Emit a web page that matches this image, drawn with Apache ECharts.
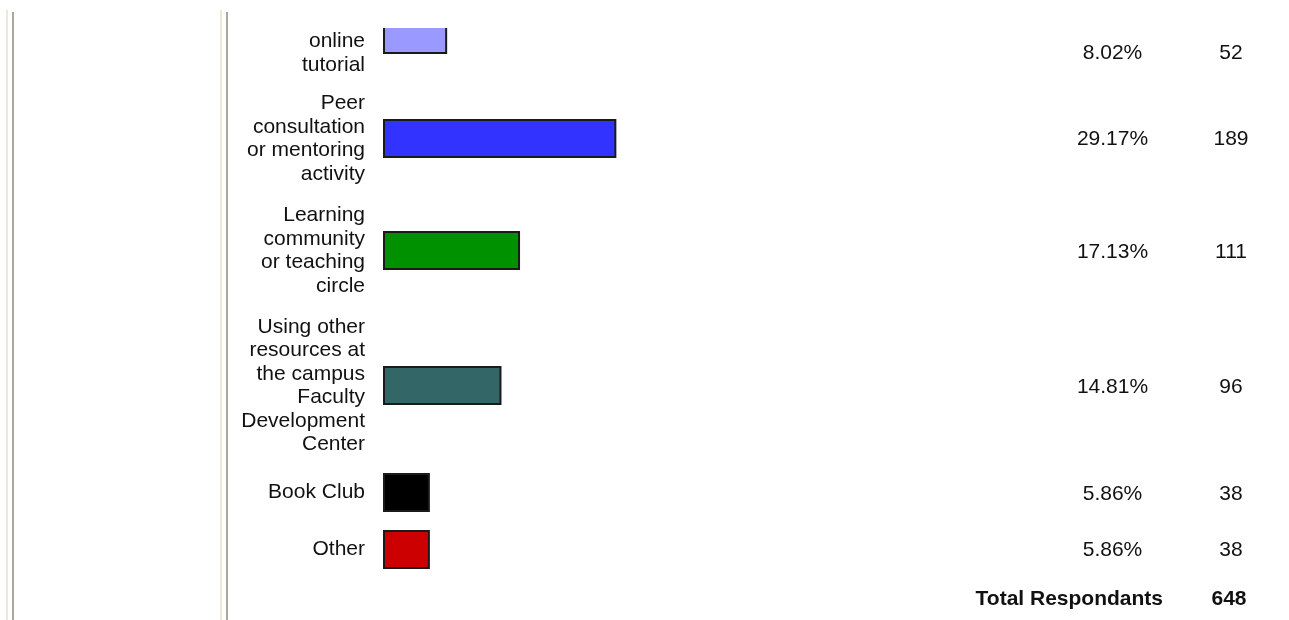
<!DOCTYPE html>
<html>
<head>
<meta charset="utf-8">
<script src="https://cdn.jsdelivr.net/npm/echarts@6/dist/echarts.min.js"></script>
<style>
  html, body { margin: 0; padding: 0; background: #fff; }
  #chart { width: 1289px; height: 620px; }
</style>
</head>
<body>
<div id="chart"></div>
<script>
// ---- data ----
const categories = [
  'online\ntutorial',
  'Peer\nconsultation\nor mentoring\nactivity',
  'Learning\ncommunity\nor teaching\ncircle',
  'Using other\nresources at\nthe campus\nFaculty\nDevelopment\nCenter',
  'Book Club',
  'Other'
];
const percents = [8.02, 29.17, 17.13, 14.81, 5.86, 5.86];
const counts = [52, 189, 111, 96, 38, 38];
const totalLabel = 'Total Respondants';
const totalCount = 648;
const barColors = ['#9999FF', '#3333FF', '#009100', '#336666', '#000000', '#CC0000'];

// ---- layout ----
const FONT = '"Liberation Sans", Arial, Helvetica, sans-serif';
const barTops = [15, 119, 231, 366, 473, 530];
const barH = 39;
const textY = [53, 139, 252, 387, 494, 550.5];

const chart = echarts.init(document.getElementById('chart'), null, { renderer: 'canvas' });

const grids = [], xAxes = [], yAxes = [], series = [];
const graphics = [];
categories.forEach((cat, i) => {
  grids.push({ left: 383, width: 800, top: barTops[i], height: barH });
  xAxes.push({ type: 'value', gridIndex: i, min: 0, max: 100, show: false });
  // first row's label sits lower than its (partly clipped) bar, so it is drawn as text below
  const axisLabelShown = i !== 0;
  yAxes.push({
    type: 'category', gridIndex: i, data: [cat],
    axisLine: { show: false }, axisTick: { show: false }, splitLine: { show: false },
    axisLabel: {
      show: axisLabelShown,
      fontSize: 21, lineHeight: 23.5, color: '#111', fontFamily: FONT,
      margin: 18, align: 'right', padding: [3, 0, 0, 0]
    }
  });
  series.push({
    type: 'bar', xAxisIndex: i, yAxisIndex: i, data: [percents[i]],
    barWidth: barH, silent: true,
    itemStyle: { color: barColors[i], borderColor: '#1a1a1a', borderWidth: 2 }
  });
  if (!axisLabelShown) {
    graphics.push({
      type: 'text', x: 365, y: textY[i],
      style: { text: cat, fill: '#111', font: '21px ' + FONT, lineHeight: 23.5,
               align: 'right', verticalAlign: 'middle', textAlign: 'right', textVerticalAlign: 'middle' }
    });
  }
});

graphics.push(
  // cover for clipped top area of the table
  { type: 'rect', z: 100, shape: { x: 229, y: 0, width: 1060, height: 28 }, style: { fill: '#ffffff' } },
  // frame lines
  { type: 'rect', z: 101, shape: { x: 6, y: 10, width: 2, height: 610 }, style: { fill: '#ECE9D8' } },
  { type: 'rect', z: 101, shape: { x: 12, y: 12, width: 2, height: 608 }, style: { fill: '#ACA899' } },
  { type: 'rect', z: 101, shape: { x: 220, y: 10, width: 2, height: 610 }, style: { fill: '#ECE9D8' } },
  { type: 'rect', z: 101, shape: { x: 226, y: 12, width: 2, height: 608 }, style: { fill: '#ACA899' } }
);
percents.forEach((p, i) => {
  graphics.push({
    type: 'text', x: 1112.5, y: textY[i],
    style: { text: p.toFixed(2) + '%', fill: '#111', font: '21px ' + FONT,
             align: 'center', verticalAlign: 'middle', textAlign: 'center', textVerticalAlign: 'middle' }
  });
  graphics.push({
    type: 'text', x: 1231, y: textY[i],
    style: { text: String(counts[i]), fill: '#111', font: '21px ' + FONT,
             align: 'center', verticalAlign: 'middle', textAlign: 'center', textVerticalAlign: 'middle' }
  });
});
graphics.push({
  type: 'text', x: 1163, y: 599,
  style: { text: totalLabel, fill: '#111', font: 'bold 21px ' + FONT,
           align: 'right', verticalAlign: 'middle', textAlign: 'right', textVerticalAlign: 'middle' }
});
graphics.push({
  type: 'text', x: 1229, y: 599,
  style: { text: String(totalCount), fill: '#111', font: 'bold 21px ' + FONT,
           align: 'center', verticalAlign: 'middle', textAlign: 'center', textVerticalAlign: 'middle' }
});

chart.setOption({
  animation: false,
  backgroundColor: '#ffffff',
  grid: grids,
  xAxis: xAxes,
  yAxis: yAxes,
  series: series,
  graphic: graphics
});
</script>
</body>
</html>
